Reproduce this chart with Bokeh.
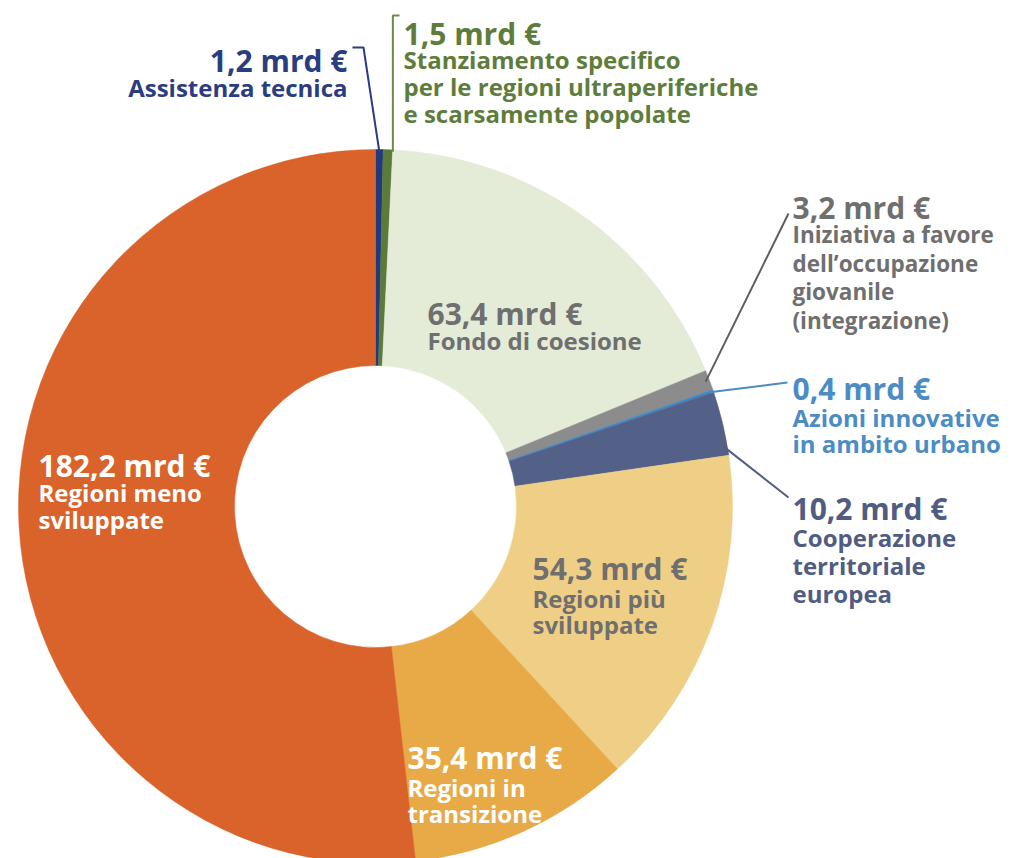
import math
from bokeh.plotting import figure
from bokeh.models import Range1d, ColumnDataSource
from bokeh.core.properties import value
from bokeh.embed import file_html
from bokeh.resources import INLINE

# ---------------- data ----------------
categories = [
    "Assistenza tecnica",
    "Stanziamento specifico per le regioni ultraperiferiche e scarsamente popolate",
    "Fondo di coesione",
    "Iniziativa a favore dell'occupazione giovanile (integrazione)",
    "Azioni innovative in ambito urbano",
    "Cooperazione territoriale europea",
    "Regioni più sviluppate",
    "Regioni in transizione",
    "Regioni meno sviluppate",
]
amounts = [1.2, 1.5, 63.4, 3.2, 0.4, 10.2, 54.3, 35.4, 182.2]
value_labels = ["1,2 mrd €", "1,5 mrd €", "63,4 mrd €", "3,2 mrd €", "0,4 mrd €",
                "10,2 mrd €", "54,3 mrd €", "35,4 mrd €", "182,2 mrd €"]
desc_lines = [
    ["Assistenza tecnica"],
    ["Stanziamento specifico", "per le regioni ultraperiferiche", "e scarsamente popolate"],
    ["Fondo di coesione"],
    ["Iniziativa a favore", "dell\u2019occupazione", "giovanile", "(integrazione)"],
    ["Azioni innovative", "in ambito urbano"],
    ["Cooperazione", "territoriale", "europea"],
    ["Regioni più", "sviluppate"],
    ["Regioni in", "transizione"],
    ["Regioni meno", "sviluppate"],
]

# ---------------- styles / layout ----------------
slice_colors = ["#213A7C", "#5B7B3A", "#E4EBD7", "#8C8C8C", "#3D88C8",
                "#536189", "#EFCF86", "#E7AA46", "#D9632B"]
text_colors = ["#2C3C80", "#5E7C3C", "#6F6F6F", "#6F6F6F", "#4C8CC5",
               "#505C82", "#6F6F6F", "#FFFFFF", "#FFFFFF"]
# label anchor x, alignment, value baseline, first desc baseline, desc spacing
lab_x = [347, 403, 427, 792, 792, 792, 532, 407, 38]
lab_align = ["right", "left", "left", "left", "left", "left", "left", "left", "left"]
val_y = [60, 33, 313, 207, 388, 508, 568, 757, 465]
desc_y0 = [87, 59, 340, 234, 417, 537, 598, 787, 492]
desc_dy = [27, 27, 27, 28.5, 26, 28, 26, 26, 27]
desc_size = ["24px", "24px", "24px", "22.5px", "24px", "24px", "24px", "24px", "24px"]

CX, CY = 375, 506          # screen coordinates of donut centre
R_OUT, R_IN = 357, 141

W, H = 1014, 858
p = figure(width=W, height=H, x_range=Range1d(0, W), y_range=Range1d(-H, 0),
           output_backend="svg", toolbar_location=None, min_border=0)
p.axis.visible = False
p.grid.visible = False
p.outline_line_color = None
p.background_fill_color = "white"
p.border_fill_color = "white"

total = sum(amounts)
theta0, theta1 = [], []
acc = 0.0
for a in amounts:
    theta0.append(acc / total * 2 * math.pi)
    acc += a
    theta1.append(acc / total * 2 * math.pi)

src = ColumnDataSource(dict(
    x=[CX] * len(amounts), y=[-CY] * len(amounts),
    start=[math.pi / 2 - t for t in theta1],
    end=[math.pi / 2 - t for t in theta0],
    color=slice_colors, cat=categories, amt=amounts,
))
p.annular_wedge(x="x", y="y", inner_radius=R_IN, outer_radius=R_OUT,
                start_angle="start", end_angle="end", direction="anticlock",
                fill_color="color", line_color="color", line_width=0.5, source=src)


def edge_point(i, frac=0.5, r=R_OUT):
    t = theta0[i] + frac * (theta1[i] - theta0[i])
    return CX + r * math.sin(t), CY - r * math.cos(t)

# leader lines
line_col = {0: "#2C3C80", 1: "#6A8A4A", 3: "#5F5F5F", 4: "#4C8CC5", 5: "#505C82"}
ex, ey = edge_point(0, 0.5, R_OUT - 2)
p.line([352, 363, ex], [-47, -47, -ey], line_color=line_col[0], line_width=2)
ex, ey = edge_point(1, 0.5, R_OUT - 2)
p.line([399, ex + 5, ex + 5], [-15, -15, -ey], line_color=line_col[1], line_width=2)
ex, ey = edge_point(3, 0.5, R_OUT - 4)
p.line([788, ex], [-213, -ey], line_color=line_col[3], line_width=2)
ex, ey = edge_point(4, 0.5, R_OUT - 4)
p.line([787, ex], [-382, -ey], line_color=line_col[4], line_width=2)
ex, ey = edge_point(5, 0.85, R_OUT - 4)
p.line([788, ex], [-497, -ey], line_color=line_col[5], line_width=2)

# texts
tx, ty, tt, tsize, tstyle, tcol, talign = [], [], [], [], [], [], []
for i in range(len(amounts)):
    tx.append(lab_x[i]); ty.append(-val_y[i]); tt.append(value_labels[i])
    tsize.append("30px"); tstyle.append("bold"); tcol.append(text_colors[i]); talign.append(lab_align[i])
    for k, line in enumerate(desc_lines[i]):
        tx.append(lab_x[i]); ty.append(-(desc_y0[i] + k * desc_dy[i])); tt.append(line)
        tsize.append(desc_size[i]); tstyle.append("bold"); tcol.append(text_colors[i]); talign.append(lab_align[i])

tsrc = ColumnDataSource(dict(x=tx, y=ty, text=tt, size=tsize, style=tstyle, color=tcol, align=talign))
p.text(x="x", y="y", text="text", text_font=value("Open Sans"), text_font_size="size",
       text_font_style="style", text_color="color", text_align="align",
       text_baseline="alphabetic", source=tsrc)

open("out.html", "w").write(file_html(p, INLINE))
